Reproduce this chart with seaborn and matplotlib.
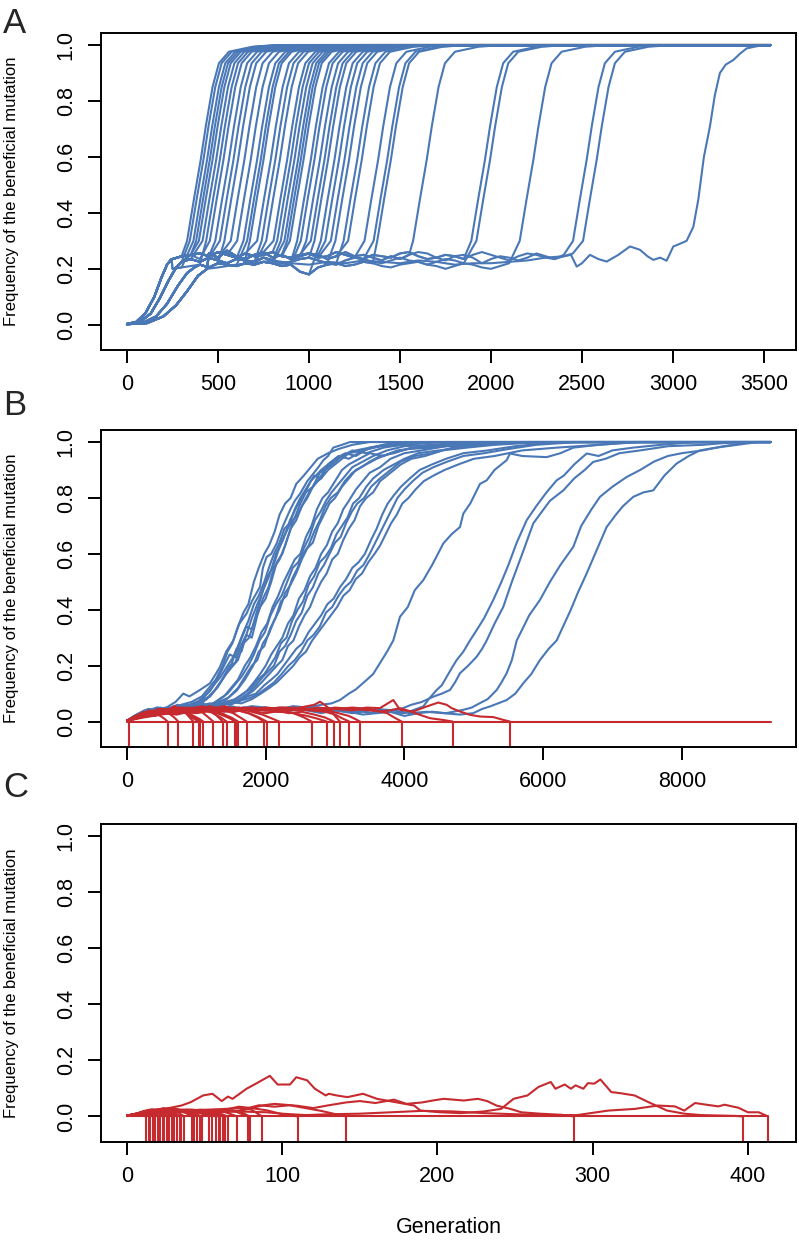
import pandas as pd
import seaborn as sns
import matplotlib
matplotlib.use("Agg")
from matplotlib import pyplot as plt

BLUE = "#4a78b6"
RED = "#c62a2f"

# ---------------- panel A : all runs fix, after a long plateau ----------------
a_rise_gen = [[0, 50, 100, 150, 190, 220, 245],
              [0, 70, 130, 180, 230, 270, 300],
              [0, 90, 160, 220, 280, 330, 370],
              [0, 110, 200, 270, 330, 390, 440]]
a_rise_freq = [[0.003, 0.01, 0.04, 0.10, 0.17, 0.215, 0.235],
               [0.003, 0.01, 0.04, 0.095, 0.16, 0.205, 0.225],
               [0.002, 0.008, 0.03, 0.075, 0.14, 0.185, 0.205],
               [0.002, 0.006, 0.03, 0.07, 0.12, 0.175, 0.2]]
a_plateau_gen = list(range(250, 2551, 50))
a_plateau_freq = [
    [0.235, 0.245, 0.25, 0.255, 0.245, 0.26, 0.25, 0.24, 0.255, 0.245,
     0.25, 0.26, 0.245, 0.24, 0.25, 0.255, 0.24, 0.245, 0.26, 0.25,
     0.24, 0.235, 0.25, 0.245, 0.24, 0.255, 0.26, 0.245, 0.235, 0.24,
     0.25, 0.245, 0.235, 0.25, 0.26, 0.25, 0.24, 0.23, 0.245, 0.255,
     0.25, 0.24, 0.235, 0.245, 0.255, 0.26, 0.25],
    [0.22, 0.23, 0.235, 0.225, 0.24, 0.23, 0.22, 0.235, 0.23, 0.225,
     0.24, 0.23, 0.22, 0.225, 0.235, 0.24, 0.23, 0.22, 0.215, 0.23,
     0.24, 0.235, 0.225, 0.22, 0.23, 0.24, 0.23, 0.225, 0.215, 0.225,
     0.235, 0.23, 0.22, 0.225, 0.24, 0.245, 0.23, 0.22, 0.225, 0.235,
     0.23, 0.22, 0.215, 0.225, 0.235, 0.24, 0.23],
    [0.2, 0.205, 0.21, 0.215, 0.205, 0.22, 0.215, 0.21, 0.22, 0.215,
     0.225, 0.22, 0.21, 0.215, 0.19, 0.18, 0.205, 0.215, 0.22, 0.21,
     0.215, 0.225, 0.22, 0.21, 0.205, 0.215, 0.22, 0.225, 0.215, 0.21,
     0.2, 0.21, 0.22, 0.215, 0.205, 0.2, 0.21, 0.22, 0.225, 0.215,
     0.21, 0.2, 0.208, 0.215, 0.22, 0.225, 0.22],
    [0.225, 0.24, 0.25, 0.235, 0.255, 0.24, 0.265, 0.245, 0.235, 0.25,
     0.26, 0.24, 0.25, 0.235, 0.245, 0.255, 0.25, 0.235, 0.245, 0.26,
     0.245, 0.25, 0.24, 0.23, 0.245, 0.235, 0.25, 0.26, 0.255, 0.24,
     0.23, 0.245, 0.25, 0.24, 0.22, 0.235, 0.245, 0.24, 0.23, 0.24,
     0.255, 0.245, 0.235, 0.25, 0.265, 0.255, 0.27]]
# generation at which each sweep crosses ~0.6
a_sweep_gen = [405, 420, 440, 455, 470, 490, 510, 530, 560, 585, 610, 645, 680,
               715, 735, 750, 790, 815, 840, 880, 900, 920, 940, 955, 970,
               1010, 1030, 1060, 1085, 1105, 1140, 1165, 1195, 1220, 1265, 1290,
               1380, 1430, 1450, 1647, 1967, 1995, 2233, 2526, 2581]
a_sweep_dt = [-75, -37, 0, 28, 65, 100, 155, 285, 415]
a_sweep_freq = [0.30, 0.45, 0.59, 0.71, 0.85, 0.935, 0.976, 0.994, 1.0]
a_last_gen = [0, 110, 200, 270, 330, 390, 440, 500, 600, 700, 800, 900, 1000, 1100,
              1200, 1300, 1400, 1500, 1600, 1700, 1800, 1900, 2000, 2100, 2200, 2300,
              2400, 2440, 2471, 2500, 2544, 2590, 2636, 2700, 2764, 2819, 2860, 2892,
              2930, 2965, 3002, 3040, 3075, 3112, 3139, 3170, 3203, 3230, 3258, 3290,
              3331, 3370, 3405, 3470, 3537]
a_last_freq = [0.002, 0.006, 0.03, 0.07, 0.12, 0.175, 0.2, 0.205, 0.215, 0.22, 0.23,
               0.22, 0.215, 0.225, 0.22, 0.23, 0.225, 0.22, 0.23, 0.225, 0.215, 0.22,
               0.22, 0.225, 0.23, 0.24, 0.245, 0.25, 0.208, 0.22, 0.25, 0.235, 0.226,
               0.25, 0.28, 0.268, 0.245, 0.232, 0.24, 0.229, 0.28, 0.29, 0.30, 0.35,
               0.446, 0.60, 0.708, 0.82, 0.90, 0.93, 0.946, 0.97, 0.988, 0.997, 1.0]
A_END = 3537

# ---------------- panel B : fixed (blue) and lost (red) runs ----------------
b_blue_runs = [
    [(0, .003), (150, .02), (300, .035), (450, .03), (600, .055), (700, .07), (812, .10), (900, .09),
     (1052, .113), (1197, .137), (1280, .17), (1341, .196), (1430, .25), (1533, .29), (1620, .35),
     (1726, .387), (1800, .43), (1918, .482), (1960, .55), (2014, .589), (2080, .6), (2158, .637),
     (2250, .7), (2350, .756), (2420, .79), (2495, .815), (2600, .86), (2687, .887), (2760, .91),
     (2831, .935), (2900, .95), (2975, .98), (3100, .99), (3216, 1.0), (9282, 1.0)],
    [(0, .003), (120, .015), (260, .03), (420, .025), (560, .04), (700, .035), (850, .05), (980, .06),
     (1100, .085), (1200, .11), (1300, .15), (1400, .2), (1480, .24), (1560, .23), (1640, .29),
     (1720, .34), (1800, .33), (1880, .40), (1960, .47), (2050, .52), (2150, .6), (2250, .65),
     (2350, .72), (2450, .77), (2550, .81), (2650, .86), (2800, .9), (2950, .93), (3100, .95),
     (3300, .97), (3500, .98), (3800, .995), (4000, 1.0), (9282, 1.0)],
    [(0, .003), (100, .02), (250, .04), (400, .035), (550, .05), (700, .045), (850, .04), (1000, .065),
     (1150, .1), (1250, .13), (1350, .16), (1450, .2), (1530, .23), (1600, .27), (1680, .32),
     (1750, .36), (1830, .42), (1900, .45), (1980, .5), (2060, .56), (2120, .6), (2200, .64),
     (2270, .69), (2350, .71), (2420, .76), (2500, .8), (2600, .84), (2700, .88), (2800, .87),
     (2900, .92), (3050, .95), (3200, .94), (3400, .97), (3700, .99), (4200, 1.0), (9282, 1.0)],
    [(0, .003), (200, .03), (350, .02), (500, .04), (650, .05), (800, .035), (950, .055), (1100, .07),
     (1200, .095), (1300, .12), (1400, .16), (1500, .2), (1580, .26), (1650, .25), (1720, .31),
     (1800, .37), (1880, .42), (1950, .46), (2030, .52), (2100, .55), (2180, .61), (2260, .66),
     (2340, .7), (2420, .73), (2500, .78), (2580, .82), (2680, .84), (2780, .89), (2900, .91),
     (3000, .94), (3150, .96), (3300, .95), (3500, .98), (3900, .99), (4400, 1.0), (9282, 1.0)],
    [(0, .003), (150, .025), (300, .045), (450, .04), (600, .03), (750, .05), (900, .06), (1050, .075),
     (1200, .09), (1320, .13), (1430, .17), (1530, .2), (1600, .22), (1680, .28), (1760, .3),
     (1840, .36), (1920, .41), (2000, .44), (2080, .5), (2160, .57), (2240, .6), (2320, .66),
     (2400, .72), (2480, .75), (2560, .79), (2650, .83), (2750, .86), (2850, .9), (2960, .92),
     (3100, .95), (3250, .97), (3450, .96), (3700, .98), (4100, .995), (4600, 1.0), (9282, 1.0)],
    [(0, .003), (180, .02), (330, .04), (480, .05), (630, .04), (780, .06), (930, .07), (1080, .09),
     (1180, .12), (1280, .15), (1380, .2), (1450, .25), (1520, .28), (1600, .34), (1680, .39),
     (1750, .42), (1830, .5), (1900, .55), (1980, .6), (2050, .63), (2130, .68), (2200, .74),
     (2280, .78), (2360, .8), (2440, .85), (2550, .88), (2650, .91), (2750, .94), (2900, .96),
     (3050, .975), (3250, .99), (3500, 1.0), (9282, 1.0)],
    [(0, .003), (130, .01), (280, .025), (430, .03), (580, .045), (730, .06), (880, .05), (1030, .07),
     (1150, .08), (1260, .11), (1370, .15), (1480, .2), (1560, .21), (1640, .27), (1720, .31),
     (1800, .3), (1880, .38), (1960, .44), (2040, .48), (2120, .55), (2200, .58), (2280, .63),
     (2360, .69), (2440, .72), (2520, .77), (2600, .8), (2700, .85), (2800, .87), (2900, .9),
     (3050, .93), (3200, .96), (3400, .97), (3650, .985), (4000, .99), (4500, 1.0), (9282, 1.0)],
    [(0, .003), (160, .02), (320, .035), (480, .03), (640, .045), (800, .04), (960, .055), (1120, .05),
     (1280, .07), (1400, .09), (1500, .12), (1600, .15), (1700, .2), (1780, .23), (1860, .27),
     (1940, .32), (2020, .35), (2100, .41), (2180, .45), (2260, .5), (2340, .54), (2420, .58),
     (2500, .6), (2580, .66), (2660, .7), (2740, .76), (2820, .8), (2900, .82), (3000, .86),
     (3100, .9), (3200, .92), (3350, .94), (3500, .96), (3700, .95), (3900, .97), (4200, .98),
     (4600, .99), (5000, 1.0), (9282, 1.0)],
    [(0, .003), (140, .025), (290, .04), (440, .05), (590, .035), (740, .05), (890, .045), (1040, .06),
     (1190, .055), (1330, .08), (1450, .1), (1550, .13), (1650, .16), (1750, .2), (1830, .24),
     (1910, .29), (1990, .32), (2070, .38), (2150, .42), (2230, .45), (2310, .5), (2390, .55),
     (2470, .57), (2550, .62), (2630, .66), (2710, .72), (2790, .75), (2870, .79), (2950, .82),
     (3050, .85), (3150, .88), (3250, .91), (3400, .93), (3550, .95), (3750, .97), (4000, .985),
     (4400, .99), (4900, 1.0), (9282, 1.0)],
    [(0, .003), (170, .02), (340, .03), (510, .045), (680, .04), (850, .06), (1020, .05), (1190, .065),
     (1350, .06), (1480, .09), (1600, .12), (1700, .16), (1800, .2), (1880, .22), (1960, .28),
     (2040, .31), (2120, .36), (2200, .4), (2280, .46), (2360, .49), (2440, .53), (2520, .58),
     (2600, .62), (2680, .64), (2760, .7), (2840, .74), (2920, .78), (3000, .8), (3100, .84),
     (3200, .87), (3300, .9), (3450, .92), (3600, .94), (3800, .96), (4050, .975), (4400, .98),
     (4800, .99), (5300, 1.0), (9282, 1.0)],
    [(0, .003), (120, .015), (270, .03), (420, .04), (570, .03), (720, .045), (870, .06), (1020, .045),
     (1170, .06), (1320, .07), (1460, .085), (1580, .11), (1700, .15), (1820, .2), (1900, .25),
     (1980, .27), (2060, .33), (2140, .37), (2220, .43), (2300, .45), (2380, .51), (2460, .55),
     (2540, .6), (2620, .63), (2700, .68), (2780, .72), (2860, .77), (2940, .8), (3040, .82),
     (3140, .86), (3250, .89), (3380, .91), (3500, .93), (3650, .95), (3850, .96), (4100, .98),
     (4500, .99), (5100, 1.0), (9282, 1.0)],
    [(0, .003), (150, .02), (300, .04), (450, .035), (600, .05), (750, .04), (900, .055), (1050, .06),
     (1200, .05), (1350, .065), (1500, .07), (1620, .09), (1730, .11), (1830, .14), (1920, .17),
     (2000, .2), (2080, .24), (2160, .27), (2240, .3), (2320, .35), (2400, .38), (2480, .44),
     (2560, .47), (2640, .52), (2720, .55), (2800, .6), (2880, .63), (2960, .68), (3040, .71),
     (3120, .76), (3200, .79), (3300, .83), (3400, .86), (3500, .89), (3650, .91), (3800, .94),
     (4000, .96), (4250, .97), (4600, .985), (5100, .99), (5600, 1.0), (9282, 1.0)],
    [(0, .003), (180, .025), (360, .03), (540, .045), (720, .05), (900, .04), (1080, .06), (1260, .055),
     (1420, .07), (1560, .08), (1680, .1), (1790, .12), (1890, .15), (1980, .17), (2060, .2),
     (2140, .23), (2220, .28), (2300, .3), (2380, .36), (2460, .4), (2540, .43), (2620, .49),
     (2700, .52), (2780, .57), (2860, .59), (2940, .62), (3020, .67), (3100, .7), (3180, .73),
     (3260, .78), (3350, .8), (3450, .84), (3550, .87), (3700, .9), (3850, .92), (4000, .94),
     (4200, .96), (4500, .97), (4800, .98), (5200, .99), (5800, 1.0), (9282, 1.0)],
    [(0, .003), (130, .02), (280, .03), (430, .05), (580, .045), (730, .035), (880, .05), (1030, .065),
     (1180, .06), (1330, .07), (1480, .065), (1620, .08), (1740, .1), (1860, .13), (1960, .16),
     (2040, .18), (2120, .2), (2200, .25), (2280, .27), (2360, .31), (2440, .36), (2520, .39),
     (2600, .45), (2680, .48), (2760, .53), (2840, .56), (2920, .6), (3000, .64), (3080, .66),
     (3160, .71), (3240, .75), (3320, .78), (3420, .8), (3520, .84), (3650, .87), (3800, .9),
     (3950, .93), (4150, .95), (4400, .96), (4700, .98), (5100, .99), (5700, 1.0), (9282, 1.0)],
    [(0, .003), (200, .03), (400, .04), (600, .03), (800, .05), (1000, .055), (1200, .045), (1400, .06),
     (1560, .07), (1700, .09), (1820, .11), (1940, .14), (2050, .17), (2160, .2), (2240, .22),
     (2320, .27), (2400, .29), (2480, .34), (2560, .38), (2640, .41), (2720, .46), (2800, .5),
     (2880, .53), (2960, .58), (3040, .6), (3120, .65), (3200, .69), (3280, .72), (3360, .77),
     (3450, .8), (3550, .82), (3650, .86), (3800, .89), (3950, .92), (4100, .94), (4300, .95),
     (4550, .97), (4900, .98), (5300, .99), (6000, 1.0), (9282, 1.0)],
    [(0, .003), (160, .02), (320, .035), (480, .045), (640, .04), (800, .055), (960, .05), (1120, .06),
     (1280, .05), (1440, .065), (1600, .07), (1740, .09), (1860, .1), (1980, .13), (2080, .15),
     (2170, .17), (2260, .2), (2350, .23), (2440, .26), (2530, .28), (2620, .32), (2710, .35),
     (2800, .38), (2890, .42), (2980, .44), (3070, .48), (3160, .51), (3250, .55), (3340, .57),
     (3430, .6), (3520, .65), (3600, .69), (3680, .74), (3760, .78), (3850, .81), (3950, .84),
     (4080, .87), (4220, .9), (4400, .92), (4600, .94), (4850, .96), (5200, .97), (5600, .985),
     (6200, 1.0), (9282, 1.0)],
    [(0, .003), (140, .015), (290, .03), (440, .04), (590, .05), (740, .04), (890, .055), (1040, .06),
     (1190, .05), (1340, .065), (1490, .06), (1640, .075), (1780, .085), (1900, .1), (2010, .12),
     (2120, .14), (2230, .17), (2330, .2), (2420, .22), (2510, .25), (2600, .29), (2690, .31),
     (2780, .34), (2870, .39), (2960, .41), (3050, .45), (3140, .48), (3230, .5), (3320, .54),
     (3410, .56), (3500, .6), (3580, .64), (3660, .68), (3740, .72), (3820, .76), (3900, .8),
     (4000, .83), (4120, .86), (4260, .89), (4420, .91), (4620, .93), (4850, .95), (5150, .96),
     (5500, .975), (5900, .99), (6500, 1.0), (9282, 1.0)],
    [(0, .003), (190, .025), (380, .04), (570, .035), (760, .05), (950, .045), (1140, .06), (1330, .055),
     (1500, .07), (1650, .065), (1800, .08), (1930, .1), (2050, .12), (2160, .14), (2280, .17),
     (2400, .2), (2490, .23), (2580, .25), (2670, .29), (2760, .32), (2850, .35), (2940, .38),
     (3030, .41), (3120, .45), (3210, .47), (3300, .51), (3390, .53), (3480, .57), (3570, .6),
     (3650, .63), (3730, .67), (3810, .71), (3890, .74), (3970, .78), (4060, .8), (4160, .83),
     (4280, .86), (4420, .88), (4580, .9), (4780, .92), (5000, .94), (5300, .95), (5700, .97),
     (6200, .98), (6800, .99), (7400, 1.0), (9282, 1.0)],
    [(0, .003), (200, .02), (400, .035), (600, .04), (800, .03), (1000, .045), (1200, .04), (1400, .05),
     (1600, .045), (1800, .055), (2000, .05), (2200, .045), (2400, .055), (2600, .05), (2800, .06),
     (2950, .065), (3071, .077), (3200, .1), (3300, .115), (3456, .149), (3550, .17), (3650, .21),
     (3750, .25), (3840, .29), (3937, .375), (4050, .41), (4150, .47), (4273, .506), (4400, .56),
     (4561, .637), (4680, .67), (4802, .696), (4850, .744), (4950, .78), (5090, .85), (5187, .863),
     (5300, .9), (5400, .92), (5475, .935), (5523, .959), (5700, .95), (6052, .946), (6250, .96),
     (6436, .98), (6800, .99), (7300, 1.0), (9282, 1.0)],
    [(0, .003), (250, .025), (500, .04), (750, .03), (1000, .05), (1250, .045), (1500, .055), (1750, .04),
     (2000, .05), (2250, .035), (2500, .045), (2750, .05), (3000, .04), (3250, .03), (3500, .04),
     (3750, .035), (4000, .03), (4120, .04), (4273, .054), (4350, .08), (4466, .113), (4540, .13),
     (4610, .16), (4680, .19), (4754, .22), (4850, .25), (4946, .29), (5050, .33), (5150, .37),
     (5282, .435), (5400, .5), (5500, .56), (5620, .64), (5763, .72), (5900, .77), (6050, .82),
     (6196, .863), (6300, .88), (6450, .92), (6629, .959), (6800, .95), (7000, .97), (7300, .98),
     (7700, .99), (8200, 1.0), (9282, 1.0)],
    [(0, .003), (220, .02), (440, .035), (660, .045), (880, .04), (1100, .05), (1320, .04), (1540, .035),
     (1760, .05), (1980, .045), (2200, .04), (2420, .05), (2640, .045), (2860, .035), (3080, .045),
     (3300, .04), (3520, .03), (3740, .04), (3950, .045), (4100, .06), (4250, .07), (4417, .089),
     (4540, .1), (4658, .113), (4730, .14), (4802, .173), (4920, .2), (5043, .232), (5120, .26),
     (5187, .29), (5300, .35), (5426, .41), (5550, .5), (5700, .6), (5859, .709), (5980, .75),
     (6100, .79), (6292, .827), (6450, .87), (6600, .9), (6724, .929), (6900, .94), (7100, .96),
     (7400, .97), (7800, .985), (8300, .99), (8800, 1.0), (9282, 1.0)],
    [(0, .003), (200, .015), (400, .03), (600, .04), (800, .035), (1000, .045), (1200, .05), (1400, .04),
     (1600, .05), (1800, .045), (2000, .04), (2200, .05), (2400, .045), (2600, .04), (2800, .03),
     (3000, .04), (3200, .035), (3400, .025), (3600, .03), (3800, .035), (4000, .02), (4200, .03),
     (4400, .035), (4600, .03), (4850, .042), (4970, .05), (5090, .066), (5200, .08), (5331, .113),
     (5400, .14), (5475, .173), (5550, .22), (5620, .29), (5700, .33), (5800, .38), (5955, .435),
     (6100, .5), (6250, .56), (6436, .625), (6550, .7), (6700, .76), (6821, .804), (7000, .84),
     (7206, .875), (7400, .9), (7600, .93), (7800, .95), (8000, .96), (8300, .97), (8600, .985),
     (9000, 1.0), (9282, 1.0)],
    [(0, .003), (240, .02), (480, .04), (720, .03), (960, .045), (1200, .05), (1440, .04), (1680, .05),
     (1920, .045), (2160, .035), (2400, .045), (2640, .04), (2880, .05), (3120, .04), (3360, .035),
     (3600, .045), (3840, .04), (4080, .03), (4320, .035), (4560, .03), (4800, .025), (4994, .03),
     (5120, .045), (5234, .054), (5350, .065), (5475, .077), (5600, .1), (5715, .137), (5830, .17),
     (5955, .22), (6080, .26), (6196, .29), (6244, .316), (6400, .4), (6500, .46), (6629, .53),
     (6750, .6), (6917, .696), (7050, .74), (7150, .77), (7301, .804), (7450, .82), (7589, .827),
     (7750, .88), (7926, .923), (8100, .95), (8262, .97), (8500, .98), (8800, .99), (9100, 1.0),
     (9282, 1.0)],
]
b_red_runs = [
    [(0, .003), (15, .006), (25, .004), (34, 0)],
    [(0, .003), (100, .015), (200, .025), (300, .02), (400, .03), (480, .02), (540, .01), (586, 0)],
    [(0, .003), (120, .02), (250, .035), (380, .03), (500, .045), (600, .03), (680, .015), (740, 0)],
    [(0, .003), (150, .015), (300, .03), (450, .045), (600, .04), (750, .05), (850, .03), (920, .01), (957, 0)],
    [(0, .003), (130, .02), (260, .025), (400, .04), (540, .035), (680, .055), (800, .04), (900, .02),
     (980, .008), (1033, 0)],
    [(0, .003), (160, .02), (320, .04), (480, .03), (640, .045), (764, .05), (880, .03), (980, .015), (1057, 0)],
    [(0, .003), (140, .015), (280, .02), (420, .035), (560, .03), (700, .04), (840, .035), (960, .02),
     (1040, .01), (1100, 0)],
    [(0, .003), (150, .02), (300, .03), (450, .025), (600, .04), (750, .035), (900, .05), (1050, .04),
     (1150, .02), (1245, 0)],
    [(0, .003), (170, .02), (340, .035), (510, .045), (680, .04), (850, .03), (1000, .045), (1197, .042),
     (1300, .02), (1380, 0)],
    [(0, .003), (150, .015), (300, .025), (450, .035), (600, .03), (750, .045), (900, .04), (1050, .05),
     (1200, .035), (1350, .015), (1437, 0)],
    [(0, .003), (180, .02), (360, .03), (540, .04), (720, .05), (900, .04), (1080, .055), (1250, .04),
     (1400, .025), (1500, .01), (1562, 0)],
    [(0, .003), (130, .015), (260, .025), (400, .02), (550, .035), (700, .03), (850, .04), (1000, .035),
     (1150, .045), (1300, .03), (1450, .015), (1582, 0)],
    [(0, .003), (200, .02), (400, .03), (600, .035), (800, .05), (1000, .045), (1200, .04), (1350, .03),
     (1500, .015), (1601, 0)],
    [(0, .003), (170, .02), (340, .03), (510, .04), (680, .035), (850, .045), (1020, .04), (1190, .055),
     (1360, .045), (1530, .03), (1650, .012), (1726, 0)],
    [(0, .003), (200, .015), (400, .03), (600, .04), (800, .035), (1000, .05), (1200, .045), (1400, .055),
     (1600, .04), (1750, .03), (1880, .015), (1980, 0)],
    [(0, .003), (160, .02), (320, .035), (480, .03), (640, .045), (800, .04), (960, .05), (1120, .045),
     (1280, .035), (1440, .045), (1600, .04), (1760, .03), (1900, .015), (2014, 0)],
    [(0, .003), (180, .02), (360, .025), (540, .04), (720, .045), (900, .035), (1080, .05), (1260, .045),
     (1440, .04), (1620, .05), (1800, .035), (1950, .025), (2100, .01), (2196, 0)],
    [(0, .003), (200, .02), (400, .03), (600, .045), (800, .04), (1000, .05), (1200, .045), (1400, .035),
     (1600, .045), (1800, .05), (2000, .04), (2200, .045), (2400, .03), (2550, .015), (2663, 0)],
    [(0, .003), (220, .02), (440, .035), (660, .04), (880, .03), (1100, .045), (1320, .04), (1540, .05),
     (1760, .04), (1980, .045), (2200, .035), (2400, .03), (2600, .02), (2750, .01), (2880, 0)],
    [(0, .003), (180, .015), (360, .025), (540, .03), (720, .04), (900, .035), (1080, .045), (1260, .04),
     (1440, .05), (1620, .045), (1800, .04), (1980, .05), (2160, .04), (2340, .03), (2520, .035),
     (2700, .025), (2850, .015), (2985, 0)],
    [(0, .003), (200, .02), (400, .035), (600, .03), (800, .04), (1000, .045), (1200, .035), (1400, .045),
     (1600, .04), (1800, .05), (2000, .045), (2200, .05), (2447, .048), (2600, .055), (2700, .06),
     (2783, .071), (2850, .06), (2920, .045), (3000, .02), (3071, 0)],
    [(0, .003), (220, .02), (440, .03), (660, .04), (880, .05), (1100, .04), (1320, .045), (1540, .035),
     (1760, .045), (1980, .04), (2200, .035), (2420, .045), (2640, .04), (2860, .035), (3000, .025),
     (3100, .012), (3206, 0)],
    [(0, .003), (240, .02), (480, .03), (720, .025), (960, .04), (1200, .045), (1440, .04), (1680, .05),
     (1920, .045), (2160, .04), (2400, .05), (2640, .045), (2880, .04), (3050, .03), (3200, .02),
     (3300, .008), (3360, 0)],
    [(0, .003), (250, .02), (500, .03), (750, .035), (1000, .04), (1250, .035), (1500, .045), (1750, .04),
     (2000, .03), (2250, .04), (2500, .045), (2750, .04), (3000, .05), (3250, .045), (3500, .04),
     (3648, .036), (3750, .03), (3850, .015), (3961, 0)],
    [(0, .003), (250, .015), (500, .025), (750, .035), (1000, .03), (1250, .04), (1500, .035), (1750, .045),
     (2000, .04), (2250, .05), (2500, .045), (2750, .04), (3000, .045), (3250, .05), (3500, .045),
     (3648, .036), (3800, .04), (3937, .048), (4100, .035), (4225, .024), (4369, .012), (4550, .006),
     (4696, 0)],
    [(0, .003), (250, .02), (500, .035), (750, .03), (1000, .04), (1250, .035), (1500, .045), (1750, .04),
     (2000, .05), (2250, .045), (2500, .04), (2750, .05), (3000, .045), (3250, .04), (3450, .05),
     (3648, .048), (3840, .077), (3937, .042), (4128, .036), (4322, .054), (4489, .068), (4610, .06),
     (4682, .048), (4802, .036), (4946, .024), (5090, .018), (5282, .016), (5426, .006), (5523, 0)],
]
B_END = 9282

# ---------------- panel C : all runs lost ----------------
c_short_runs = [
    [(0, .003), (4, .006), (8, .01), (10, .006), (12, 0)],
    [(0, .003), (5, .008), (9, .014), (12, .007), (14, 0)],
    [(0, .003), (6, .01), (10, .016), (13, .008), (15, 0)],
    [(0, .003), (5, .006), (10, .012), (14, .01), (17, 0)],
    [(0, .003), (6, .01), (11, .02), (15, .012), (18, 0)],
    [(0, .003), (6, .008), (12, .018), (16, .014), (20, 0)],
    [(0, .003), (7, .012), (13, .022), (18, .012), (21, 0)],
    [(0, .003), (6, .009), (12, .016), (18, .02), (23, 0)],
    [(0, .003), (7, .01), (14, .024), (20, .018), (24, 0)],
    [(0, .003), (8, .012), (15, .022), (21, .025), (26, 0)],
    [(0, .003), (7, .009), (14, .018), (21, .014), (27, 0)],
    [(0, .003), (8, .012), (16, .026), (23, .02), (29, 0)],
    [(0, .003), (8, .01), (16, .02), (24, .03), (30, 0)],
    [(0, .003), (9, .012), (18, .024), (26, .016), (32, 0)],
    [(0, .003), (9, .01), (18, .022), (27, .028), (34, 0)],
    [(0, .003), (9, .012), (18, .018), (28, .014), (35, 0)],
    [(0, .003), (10, .012), (20, .026), (28, .03), (37, 0)],
    [(0, .003), (10, .012), (20, .02), (30, .024), (37, .015), (42, 0)],
    [(0, .003), (10, .01), (20, .022), (30, .028), (38, .02), (43, 0)],
    [(0, .003), (11, .012), (22, .02), (33, .018), (40, .012), (45, 0)],
    [(0, .003), (12, .014), (24, .024), (34, .02), (42, .014), (47, 0)],
    [(0, .003), (12, .01), (24, .018), (36, .024), (43, .012), (48, 0)],
    [(0, .003), (13, .012), (26, .02), (38, .022), (46, .014), (53, 0)],
    [(0, .003), (14, .014), (28, .026), (40, .02), (49, .012), (55, 0)],
    [(0, .003), (14, .012), (28, .02), (42, .024), (51, .015), (57, 0)],
    [(0, .003), (15, .015), (30, .022), (44, .018), (53, .012), (59, 0)],
    [(0, .003), (15, .012), (30, .025), (45, .02), (54, .01), (60, 0)],
    [(0, .003), (15, .01), (30, .018), (46, .022), (56, .012), (62, 0)],
    [(0, .003), (16, .014), (32, .024), (47, .02), (57, .01), (63, 0)],
    [(0, .003), (16, .012), (32, .02), (48, .024), (58, .014), (65, 0)],
    [(0, .003), (18, .015), (35, .022), (52, .02), (62, .018), (71, 0)],
    [(0, .003), (20, .016), (38, .025), (56, .02), (68, .022), (78, 0)],
    [(0, .003), (20, .014), (40, .02), (60, .024), (72, .02), (79, 0)],
    [(0, .003), (20, .015), (40, .022), (60, .026), (72, .03), (80, .025), (87, 0)],
]
c_long_runs = [
    [(0, .003), (15, .012), (30, .02), (45, .015), (60, .02), (72, .035), (80, .03), (90, .022),
     (100, .008), (110, 0)],
    [(0, .003), (10, .01), (20, .02), (30, .025), (40, .02), (50, .015), (60, .02), (70, .018),
     (78, .03), (85, .04), (95, .035), (105, .04), (115, .03), (125, .02), (133, .01), (141, 0)],
    [(0, .003), (15, .012), (30, .02), (45, .015), (60, .02), (72, .018), (80, .03), (88, .04),
     (95, .045), (110, .038), (120, .03), (130, .04), (141, .05), (150, .055), (160, .048),
     (172, .06), (180, .045), (190, .05), (197, .057), (204, .063), (217, .057), (226, .063),
     (232, .055), (238, .039), (247, .027), (254, .015), (266, .01), (280, .006), (288, 0)],
    [(0, .003), (10, .006), (20, .02), (27, .03), (35, .039), (41, .051), (49, .075), (55, .081),
     (61, .055), (65, .071), (68, .063), (77, .099), (83, .117), (92, .145), (97, .114), (105, .114),
     (109, .14), (116, .129), (121, .099), (128, .075), (130, .081), (135, .075), (142, .069),
     (152, .081), (161, .063), (176, .048), (185, .039), (189, .021), (202, .015), (215, .012),
     (230, .018), (241, .027), (249, .063), (258, .075), (265, .105), (273, .123), (276, .099),
     (282, .114), (286, .099), (289, .111), (294, .099), (297, .119), (301, .117), (305, .132),
     (312, .087), (318, .083), (327, .075), (336, .051), (342, .036), (348, .021), (359, .01),
     (370, .005), (392, .002), (397, 0)],
    [(0, .003), (15, .015), (30, .02), (50, .012), (70, .018), (90, .015), (100, .01), (115, .005),
     (130, .008), (150, .01), (170, .015), (190, .02), (210, .018), (230, .012), (250, .008),
     (270, .005), (290, .005), (310, .021), (327, .027), (342, .039), (353, .036), (359, .021),
     (366, .048), (372, .043), (381, .036), (385, .042), (394, .031), (400, .015), (407, .015),
     (413, 0)],
]
C_END = 413


def to_frame(runs):
    rows = []
    for k, run in enumerate(runs):
        for g, f in run:
            rows.append((k, g, f))
    return pd.DataFrame(rows, columns=["run", "generation", "frequency"])


def draw_runs(ax, runs, color):
    sns.lineplot(data=to_frame(runs), x="generation", y="frequency", units="run",
                 estimator=None, sort=False, color=color, lw=1.5, ax=ax, legend=False)


def build_panel_a():
    runs = []
    for i, t in enumerate(a_sweep_gen):
        k = i % 2 if t < 600 else i % 4
        start = t + a_sweep_dt[0]
        pts = [(g, f) for g, f in zip(a_rise_gen[k], a_rise_freq[k]) if g < start - 20]
        for g, f in zip(a_plateau_gen, a_plateau_freq[i % 4]):
            if pts[-1][0] < g < start - 20:
                pts.append((g, f))
        pts += [(t + d, f) for d, f in zip(a_sweep_dt, a_sweep_freq)]
        pts.append((A_END, 1.0))
        runs.append(pts)
    runs.append(list(zip(a_last_gen, a_last_freq)))
    return runs


def style_axis(ax, xlim, xticks):
    ax.set_xlim(*xlim)
    ax.set_ylim(-0.09, 1.043)
    ax.set_xticks(xticks)
    ax.set_xticklabels([str(x) for x in xticks])
    yt = [0.0, 0.2, 0.4, 0.6, 0.8, 1.0]
    ax.set_yticks(yt)
    ax.set_yticklabels([f"{v:.1f}" for v in yt], rotation=90, va="center")
    for s in ax.spines.values():
        s.set_visible(True)
        s.set_linewidth(1.4)
        s.set_color("black")
    ax.tick_params(axis="both", direction="out", length=9.4, width=1.4, labelsize=15.5,
                   pad=8, color="black", labelcolor="black")
    ax.set_xlabel("")
    ax.set_ylabel("Frequency of the beneficial mutation", fontsize=12, color="black")
    ax.yaxis.set_label_coords(-0.118, 0.5)


sns.set_style("ticks")
plt.rcParams["font.family"] = ["Liberation Sans", "DejaVu Sans"]

fig = plt.figure(figsize=(7.99, 12.41), dpi=100)
ax_a = fig.add_axes([0.1264, 0.7180, 0.8698, 0.2554])
ax_b = fig.add_axes([0.1264, 0.3983, 0.8698, 0.2552])
ax_c = fig.add_axes([0.1264, 0.0800, 0.8698, 0.2560])

# A
draw_runs(ax_a, build_panel_a(), BLUE)
style_axis(ax_a, (-143, 3676), [0, 500, 1000, 1500, 2000, 2500, 3000, 3500])

# B
draw_runs(ax_b, b_blue_runs, BLUE)
draw_runs(ax_b, b_red_runs, RED)
ax_b.plot([0, B_END], [0, 0], color=RED, lw=1.5)
sns.rugplot(x=[r[-1][0] for r in b_red_runs], height=0.0794, color=RED, linewidth=1.5,
            expand_margins=False, ax=ax_b)
style_axis(ax_b, (-375, 9647), [0, 2000, 4000, 6000, 8000])

# C
draw_runs(ax_c, c_short_runs + c_long_runs, RED)
ax_c.plot([0, C_END], [0, 0], color=RED, lw=1.5)
sns.rugplot(x=[r[-1][0] for r in c_short_runs + c_long_runs], height=0.0794, color=RED,
            linewidth=1.5, expand_margins=False, ax=ax_c)
style_axis(ax_c, (-16.8, 431), [0, 100, 200, 300, 400])
ax_c.set_xlabel("Generation", fontsize=15.5, color="black")
ax_c.xaxis.set_label_coords(0.5, -0.237)

for label, y in [("A", 33), ("B", 415), ("C", 797)]:
    fig.text(3 / 799, 1 - y / 1241, label, fontsize=25, ha="left", va="baseline")

fig.savefig("out.png", dpi=100)
